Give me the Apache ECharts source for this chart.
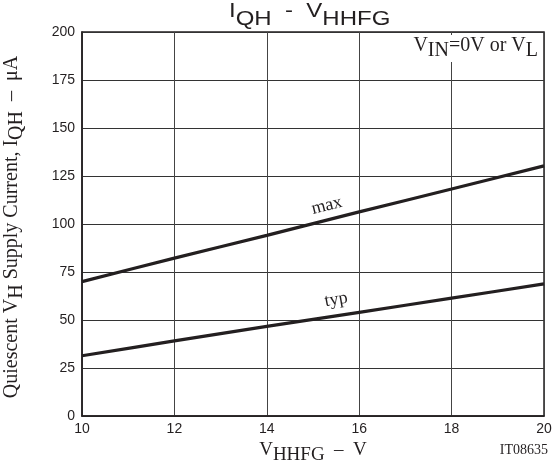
<!DOCTYPE html>
<html>
<head>
<meta charset="utf-8">
<script src="https://cdn.jsdelivr.net/npm/echarts@6/dist/echarts.min.js"></script>
<style>html,body{margin:0;padding:0;background:#fff}#c{width:557px;height:465px}</style>
</head>
<body>
<div id="c"></div>
<script>
const xValues = [10, 12, 14, 16, 18, 20];
const maxValues = [70.0, 82.2, 94.1, 106.3, 118.2, 130.3];
const typValues = [31.4, 39.1, 46.7, 54.0, 61.4, 68.8];
const xTicks = [10, 12, 14, 16, 18, 20];
const yTicks = [0, 25, 50, 75, 100, 125, 150, 175, 200];
const maxLabelAt = [15.3, 109.5];
const typLabelAt = [15.5, 60.6];

const serif = '"Liberation Serif", "Times New Roman", serif';
const sans = '"Liberation Sans", Arial, sans-serif';
const ink = '#231f20';

function subRich(size, family, drop) {
  return {
    m: { fontSize: size, fontFamily: family, fontWeight: 'normal', color: ink, padding: [0, 0, drop, 0], verticalAlign: 'bottom' },
    s: { fontSize: size, fontFamily: family, fontWeight: 'normal', color: ink, verticalAlign: 'bottom' }
  };
}
function subRichZr(size, family, drop) {
  return {
    m: { fontSize: size, fontFamily: family, fontWeight: 'normal', fill: ink, padding: [0, 0, drop, 0], verticalAlign: 'bottom' },
    s: { fontSize: size, fontFamily: family, fontWeight: 'normal', fill: ink, verticalAlign: 'bottom' }
  };
}

const chart = echarts.init(document.getElementById('c'), null, { renderer: 'canvas' });
chart.setOption({
  animation: false,
  backgroundColor: '#fff',
  graphic: [
    {
      type: 'text', x: 229, y: 1, scaleX: 1.2, z: 10,
      style: {
        text: '{m|I}{s|QH}{m|  -  V}{s|HHFG}',
        align: 'left', verticalAlign: 'top',
        rich: subRichZr(20, sans, 8)
      }
    }
  ],
  title: [
    {
      text: '{m|V}{s|IN}{m|=0V or V}{s|L}',
      right: 17, top: 35, padding: [1, 2, 1, 2],
      backgroundColor: '#fff',
      textStyle: { fontWeight: 'normal', rich: subRich(20, serif, 5) }
    },
    {
      text: 'IT08635',
      right: 9, top: 443, padding: 0,
      textStyle: { fontSize: 14, fontFamily: serif, color: ink, fontWeight: 'normal' }
    }
  ],
  grid: { left: 82, right: 13, top: 32, bottom: 49, outerBoundsMode: 'none', containLabel: false, show: true, borderColor: ink, borderWidth: 1.5 },
  xAxis: {
    type: 'value', min: xTicks[0], max: xTicks[xTicks.length - 1], interval: 2,
    axisLine: { show: true, lineStyle: { color: ink, width: 1.5 } },
    axisTick: { show: false },
    axisLabel: { fontSize: 14, fontFamily: sans, color: ink, margin: 6 },
    splitLine: { show: true, lineStyle: { color: '#444', width: 1 } },
    name: '{m|V}{s|HHFG}{m|  –  V}',
    nameLocation: 'middle', nameGap: 24,
    nameTextStyle: { rich: subRich(19, serif, 5) }
  },
  yAxis: {
    type: 'value', min: yTicks[0], max: yTicks[yTicks.length - 1], interval: 25,
    axisLine: { show: true, lineStyle: { color: ink, width: 1.5 } },
    axisTick: { show: false },
    axisLabel: { fontSize: 14, fontFamily: sans, color: ink, margin: 7 },
    splitLine: { show: true, lineStyle: { color: '#333', width: 1 } },
    name: '{m|Quiescent V}{s|H}{m| Supply Current, I}{s|QH}{m|  –  μA}',
    nameLocation: 'middle', nameGap: 55,
    nameTextStyle: { padding: [0, 6, 0, 0], rich: subRich(20, serif, 5) }
  },
  series: [
    {
      name: 'max', type: 'line', smooth: 0.3, symbol: 'none',
      data: xValues.map((x, i) => [x, maxValues[i]]),
      lineStyle: { color: ink, width: 3.2 },
      markPoint: {
        symbol: 'circle', symbolSize: 0,
        label: { show: true, formatter: 'max', rotate: 14, fontSize: 18, fontFamily: serif, color: ink, position: 'inside' },
        data: [{ coord: maxLabelAt }]
      }
    },
    {
      name: 'typ', type: 'line', smooth: 0.3, symbol: 'none',
      data: xValues.map((x, i) => [x, typValues[i]]),
      lineStyle: { color: ink, width: 3.2 },
      markPoint: {
        symbol: 'circle', symbolSize: 0,
        label: { show: true, formatter: 'typ', rotate: 10, fontSize: 18, fontFamily: serif, color: ink, position: 'inside' },
        data: [{ coord: typLabelAt }]
      }
    }
  ]
});
</script>
</body>
</html>
